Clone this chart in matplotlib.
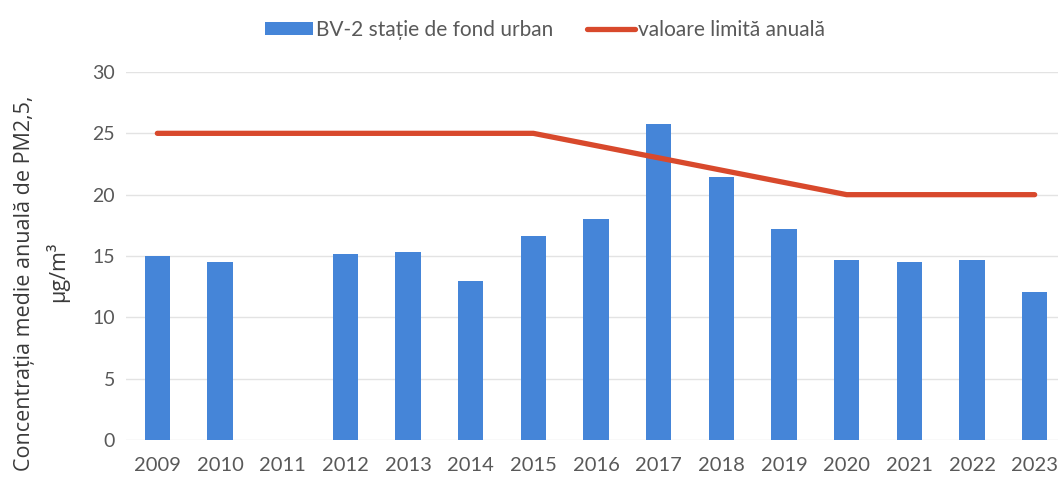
import numpy as np
import matplotlib.pyplot as plt

years = ['2009', '2010', '2011', '2012', '2013', '2014', '2015', '2016',
         '2017', '2018', '2019', '2020', '2021', '2022', '2023']
# BV-2 annual mean PM2.5 (2011 has no value)
bv2 = [15.0, 14.5, np.nan, 15.2, 15.3, 13.0, 16.6, 18.0,
       25.8, 21.4, 17.2, 14.7, 14.5, 14.7, 12.1]
limit = [25, 25, 25, 25, 25, 25, 25, 24, 23, 22, 21, 20, 20, 20, 20]

bar_label = 'BV-2 stație de fond urban'
line_label = 'valoare limită anuală'

plt.rcParams['font.family'] = ['Lato', 'DejaVu Sans']
gray = '#595959'

fig = plt.figure(figsize=(10.58, 4.95), dpi=100)
# plot area runs almost to the right edge, like the cropped scan
ax = fig.add_axes([126 / 1058, 55 / 495, 940 / 1058, 368 / 495])

x = np.arange(len(years))
bars = ax.bar(x, bv2, width=0.4, color='#4585d8', label=bar_label, zorder=2)
line, = ax.plot(x, limit, color='#d8492c', lw=3.8, solid_capstyle='round',
                label=line_label, zorder=3)

ax.set_ylim(0, 30)
ax.set_yticks(range(0, 31, 5))
ax.set_xlim(-0.5, len(years) - 0.5)
ax.set_xticks(x)
ax.set_xticklabels(years)
ax.grid(axis='y', color='#e3e3e3', lw=1, zorder=0)
for s in ax.spines.values():
    s.set_visible(False)
ax.tick_params(length=0, colors=gray)
ax.tick_params(axis='y', pad=8, labelsize=14)
ax.tick_params(axis='x', pad=12, labelsize=14.5)

ylab_font = ['Open Sans', 'DejaVu Sans']
fig.text(25 / 1058, 1 - 283 / 495, 'Concentrația medie anuală de PM2,5,',
         rotation=90, ha='center', va='center', fontsize=15.5,
         family=ylab_font, color='#3a3a3a')
fig.text(57 / 1058, 1 - 272 / 495, 'µg/m³',
         rotation=90, ha='center', va='center', fontsize=15.5,
         family=ylab_font, color='#3a3a3a')

leg = fig.legend([bars, line], [bar_label, line_label],
                 loc='center', bbox_to_anchor=(545 / 1058, 1 - 30 / 495),
                 ncol=2, frameon=False, fontsize=15, handlelength=2.3,
                 handleheight=0.55, handletextpad=0.15, columnspacing=1.6)
for t in leg.get_texts():
    t.set_color(gray)

fig.savefig('out.png', dpi=100)
